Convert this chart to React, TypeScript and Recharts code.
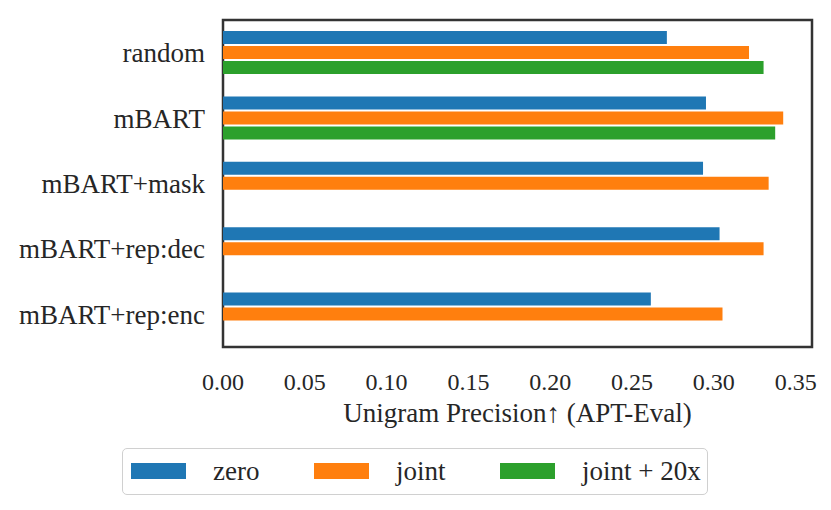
import React from 'react';
import { BarChart, Bar, XAxis, YAxis, ReferenceArea } from 'recharts';

const categories = ['random', 'mBART', 'mBART+mask', 'mBART+rep:dec', 'mBART+rep:enc'];
const zeroValues = [0.2713, 0.2952, 0.2934, 0.3035, 0.2615];
const jointValues = [0.3215, 0.3424, 0.3335, 0.3304, 0.3053];
const joint20xValues: (number | null)[] = [0.3304, 0.3375, null, null, null];
const xTicks = [0, 0.05, 0.1, 0.15, 0.2, 0.25, 0.3, 0.35];
const xMax = 0.36;

const data = categories.map((name, i) => ({
  name,
  zero: zeroValues[i],
  joint: jointValues[i],
  joint20x: joint20xValues[i],
}));

const legendItems = [
  { label: 'zero', color: '#1f77b4', left: 9 },
  { label: 'joint', color: '#ff7f0e', left: 192 },
  { label: 'joint + 20x', color: '#2ca02c', left: 378 },
];

const FONT = '"Liberation Serif", "Times New Roman", serif';
const TEXT = '#262626';

export default function App() {
  return (
    <div style={{ position: 'absolute', left: 0, top: 0, width: 831, height: 510, background: '#fff' }}>
      <BarChart
        width={831}
        height={510}
        data={data}
        layout="vertical"
        margin={{ top: 14, right: 19, bottom: 70, left: 0 }}
        barSize={13}
        barGap={2}
      >
        <XAxis
          type="number"
          domain={[0, xMax]}
          ticks={xTicks}
          tickFormatter={(v: number) => v.toFixed(2)}
          tickLine={false}
          axisLine={false}
          height={87}
          tickMargin={14}
          tick={{ fill: TEXT, fontSize: 24, fontFamily: FONT }}
          label={{
            value: 'Unigram Precision\u2191 (APT-Eval)',
            position: 'insideBottom',
            offset: 18,
            fill: TEXT,
            fontSize: 27,
            fontFamily: FONT,
          }}
        />
        <YAxis
          type="category"
          dataKey="name"
          width={223}
          tickLine={false}
          axisLine={false}
          tickMargin={12}
          padding={{ top: 6, bottom: 6 }}
          tick={{ fill: TEXT, fontSize: 27, fontFamily: FONT }}
        />
        <Bar dataKey="zero" fill="#1f77b4" isAnimationActive={false} />
        <Bar dataKey="joint" fill="#ff7f0e" isAnimationActive={false} />
        <Bar dataKey="joint20x" fill="#2ca02c" isAnimationActive={false} />
        <ReferenceArea x1={0} x2={xMax} fill="none" fillOpacity={0} stroke="#333333" strokeWidth={2.5} />
      </BarChart>
      <div
        style={{
          position: 'absolute',
          left: 122,
          top: 448,
          width: 586,
          height: 47,
          boxSizing: 'border-box',
          border: '1.5px solid #d0d0d0',
          borderRadius: 5,
          fontFamily: FONT,
          fontSize: 27,
          color: TEXT,
        }}
      >
        {legendItems.map((item) => (
          <div
            key={item.label}
            style={{ position: 'absolute', left: item.left - 1, top: 0, height: 44, display: 'flex', alignItems: 'center' }}
          >
            <div style={{ width: 55, height: 16, background: item.color }} />
            <span style={{ marginLeft: 27, whiteSpace: 'nowrap' }}>{item.label}</span>
          </div>
        ))}
      </div>
    </div>
  );
}
